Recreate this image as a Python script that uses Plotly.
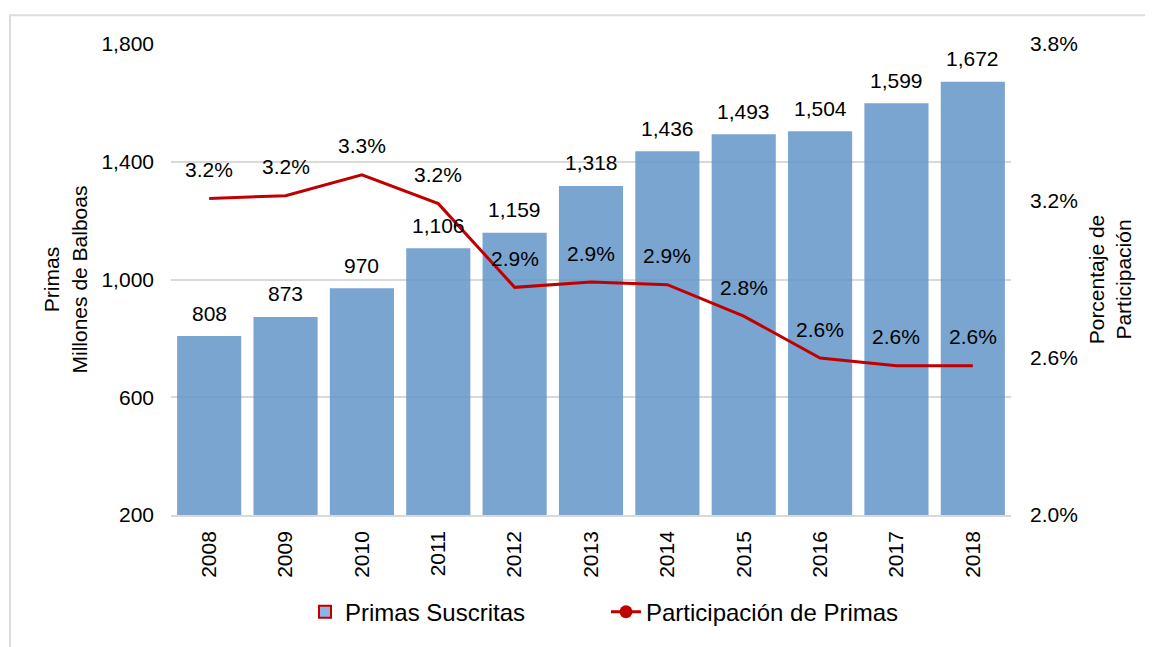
import plotly.graph_objects as go

years = ["2008", "2009", "2010", "2011", "2012", "2013", "2014", "2015", "2016", "2017", "2018"]
primas = [808, 873, 970, 1106, 1159, 1318, 1436, 1493, 1504, 1599, 1672]
participacion = [3.21, 3.22, 3.30, 3.19, 2.87, 2.89, 2.88, 2.76, 2.60, 2.57, 2.57]

left_ticks = [200, 600, 1000, 1400, 1800]
right_ticks = [2.0, 2.6, 3.2, 3.8]

FONT = "Liberation Sans, Arial, sans-serif"
BAR_COLOR = "#6496CA"
LINE_COLOR = "#C00000"
GRID = "#D9D9D9"

fig = go.Figure()

fig.add_trace(go.Bar(
    x=years, y=primas, name="Primas Suscritas",
    marker=dict(color=BAR_COLOR, line=dict(width=0)),
    opacity=0.85, width=0.84, showlegend=False,
))
fig.add_trace(go.Scatter(
    x=years, y=participacion, yaxis="y2", mode="lines",
    line=dict(color=LINE_COLOR, width=3), showlegend=False,
    name="Participación de Primas",
))
# legend entries (no visible marks)
empty = [None] * len(years)
fig.add_trace(go.Bar(
    x=years, y=empty, name="Primas Suscritas",
    marker=dict(color="#8DB4E2", line=dict(color=LINE_COLOR, width=2)),
))
fig.add_trace(go.Scatter(
    x=years, y=empty, yaxis="y2", mode="lines+markers", name="Participación de Primas",
    line=dict(color=LINE_COLOR, width=3), marker=dict(color=LINE_COLOR, size=13),
))

# data labels positioned through the category axis (index) and value axes
annotations = []
for i, v in enumerate(primas):
    annotations.append(dict(x=i, y=v, xref="x", yref="y", text=f"{v:,}",
                            showarrow=False, yshift=23, yanchor="middle",
                            font=dict(family=FONT, size=21, color="#000000")))
for i, p in enumerate(participacion):
    annotations.append(dict(x=i, y=p, xref="x", yref="y2", text=f"{p:.1f}%",
                            showarrow=False, yshift=29, yanchor="middle",
                            font=dict(family=FONT, size=21, color="#000000")))

fig.update_layout(
    width=1145, height=639,
    margin=dict(l=163, r=142, t=36, b=128),
    paper_bgcolor="white", plot_bgcolor="white",
    font=dict(family=FONT, size=21, color="#000000"),
    barmode="overlay",
    xaxis=dict(
        type="category", categoryorder="array", categoryarray=years,
        range=[-0.5, len(years) - 0.5], tickangle=-90, showgrid=False,
        showline=True, linecolor=GRID, linewidth=1.5,
        ticks="", tickfont=dict(size=21), ticklabelstandoff=6,
    ),
    yaxis=dict(
        range=[200, 1800], tickvals=left_ticks, tickformat=",",
        showgrid=True, gridcolor=GRID, gridwidth=1.5, zeroline=False,
        ticks="", ticklabelstandoff=16, tickfont=dict(size=21),
        title=dict(text="Primas<br>Millones de Balboas", font=dict(size=21), standoff=8),
    ),
    yaxis2=dict(
        range=[2.0, 3.8], tickvals=right_ticks,
        ticktext=[f"{t:.1f}%" for t in right_ticks],
        overlaying="y", side="right", showgrid=False, zeroline=False,
        ticks="", ticklabelstandoff=18, tickfont=dict(size=21),
        title=dict(text="Porcentaje de<br>Participación", font=dict(size=21), standoff=12),
    ),
    legend=dict(
        orientation="h", x=0.1595, xanchor="left", y=-0.2063, yanchor="middle",
        font=dict(size=24), entrywidth=256, entrywidthmode="pixels",
        bgcolor="rgba(0,0,0,0)",
    ),
    annotations=annotations,
    shapes=[dict(type="rect", xref="paper", yref="paper",
                 x0=-0.1917, x1=1.2, y0=-0.3, y1=1.0611,
                 line=dict(color="#DDDDDD", width=2), layer="below")],
)

fig.write_html("out.html")
